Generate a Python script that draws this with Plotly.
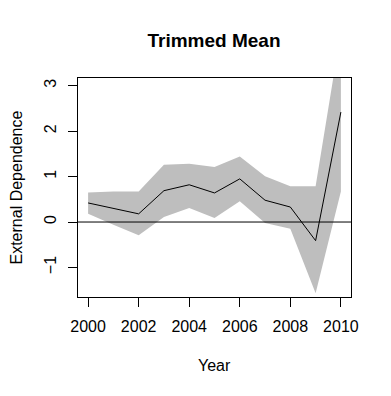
import plotly.graph_objects as go

years = [2000, 2001, 2002, 2003, 2004, 2005, 2006, 2007, 2008, 2009, 2010]
trimmed_mean = [0.42, 0.30, 0.18, 0.69, 0.82, 0.64, 0.95, 0.48, 0.33, -0.41, 2.42]
upper = [0.65, 0.67, 0.67, 1.26, 1.28, 1.21, 1.44, 1.01, 0.79, 0.79, 4.2]
lower = [0.18, -0.06, -0.29, 0.11, 0.31, 0.09, 0.46, -0.02, -0.15, -1.57, 0.67]

x_ticks = [2000, 2002, 2004, 2006, 2008, 2010]
y_ticks = [-1, 0, 1, 2, 3]

FONT = "Liberation Sans, Arial, sans-serif"

# page body has an 8px default margin, so the figure is 8px smaller
W, H = 383, 388

fig = go.Figure()

# confidence band as one polygon
fig.add_trace(
    go.Scatter(
        x=years + years[::-1],
        y=upper + lower[::-1],
        fill="toself",
        fillcolor="#BEBEBE",
        line=dict(width=0, color="#BEBEBE"),
        mode="lines",
        hoverinfo="skip",
    )
)

fig.add_trace(
    go.Scatter(
        x=years,
        y=trimmed_mean,
        mode="lines",
        line=dict(color="black", width=1),
    )
)

# horizontal reference line at zero
fig.add_shape(
    type="line", xref="paper", x0=0, x1=1, yref="y", y0=0, y1=0,
    line=dict(color="black", width=1),
)

axis_style = dict(
    showline=True,
    mirror=True,
    linecolor="black",
    linewidth=1,
    ticks="outside",
    ticklen=9,
    tickcolor="black",
    tickwidth=1,
    showgrid=False,
    zeroline=False,
    tickfont=dict(family=FONT, size=16, color="black"),
)

fig.update_xaxes(
    range=[1999.6, 2010.4],
    tickvals=x_ticks,
    ticklabelstandoff=6,
    **axis_style,
)
fig.update_yaxes(
    range=[-1.65, 3.17],
    tickvals=y_ticks,
    tickangle=-90,
    ticklabelstandoff=6,
    **axis_style,
)

fig.update_layout(
    width=W,
    height=H,
    margin=dict(l=70, r=40, t=70, b=99),
    paper_bgcolor="white",
    plot_bgcolor="white",
    showlegend=False,
    title=dict(
        text="<b>Trimmed Mean</b>",
        font=dict(family=FONT, size=19, color="black"),
        x=206 / W,
        xanchor="center",
        xref="container",
        y=1 - 32 / H,
        yanchor="middle",
        yref="container",
    ),
    annotations=[
        dict(
            text="Year", xref="paper", yref="paper",
            x=0.5, y=-(365 - 297) / 219, xanchor="center", yanchor="middle",
            showarrow=False, font=dict(family=FONT, size=16, color="black"),
        ),
        dict(
            text="External Dependence", xref="paper", yref="paper",
            x=-(78 - 16) / 273, y=0.5, xanchor="center", yanchor="middle",
            textangle=-90, showarrow=False,
            font=dict(family=FONT, size=16, color="black"),
        ),
    ],
)

fig.write_html("out.html")
